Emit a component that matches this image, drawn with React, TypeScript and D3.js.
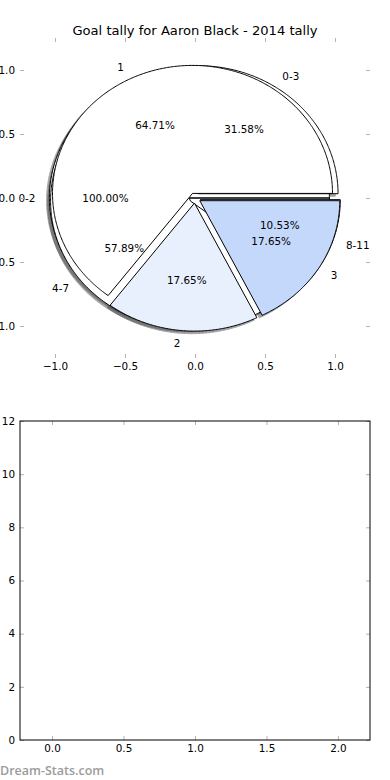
import React, { useRef, useEffect } from "react";
import * as d3 from "d3";

const title = "Goal tally for Aaron Black - 2014 tally";

// three pies drawn on the same axes, bottom one first
const allLabels = ["0-2"];
const allValues = [19];
const rangeLabels = ["0-3", "4-7", "8-11"];
const rangeValues = [6, 11, 2];
const tallyLabels = ["1", "2", "3"];
const tallyValues = [11, 3, 3];
const tallyColors = ["#ffffff", "#e9f0fd", "#c4d8fb"];

const pieTicks = [-1.0, -0.5, 0.0, 0.5, 1.0];
const lowerXTicks = [0, 0.5, 1.0, 1.5, 2.0];
const lowerYTicks = [0, 2, 4, 6, 8, 10, 12];

const W = 390;
const H = 780;
const FONT = "DejaVu Sans, sans-serif";
const TICK_GREY = "#b3b3b3";

function App() {
  const ref = useRef<SVGSVGElement>(null);

  useEffect(() => {
    const svg = d3.select(ref.current);
    svg.selectAll("*").remove();

    svg.append("rect").attr("width", W).attr("height", H).attr("fill", "white");

    // ---------- top: pie axes ----------
    const x = d3.scaleLinear().domain([-1.25, 1.25]).range([20, 370]);
    const y = d3.scaleLinear().domain([-1.25, 1.25]).range([358, 38]);

    svg
      .append("text")
      .attr("x", (x.range()[0] + x.range()[1]) / 2)
      .attr("y", 34.5)
      .attr("text-anchor", "middle")
      .style("font-family", FONT)
      .style("font-size", "13.1px")
      .text(title);

    const shadows = svg.append("g");
    const wedges = svg.append("g");
    const texts = svg.append("g");

    const line = d3
      .line<[number, number]>()
      .x((d) => x(d[0]))
      .y((d) => y(d[1]));

    const explode = 0.04;

    function wedgePoints(cx: number, cy: number, t1: number, t2: number) {
      const pts: [number, number][] = [[cx, cy]];
      const n = Math.max(2, Math.ceil((t2 - t1) / 0.01));
      for (let i = 0; i <= n; i++) {
        const t = t1 + ((t2 - t1) * i) / n;
        pts.push([cx + Math.cos(t), cy + Math.sin(t)]);
      }
      pts.push([cx, cy]);
      return pts;
    }

    function drawPie(labels: string[], values: number[], colors: string[]) {
      const total = d3.sum(values);
      const arcs = d3
        .pie<number>()
        .sort(null)
        .startAngle(0)
        .endAngle(2 * Math.PI)(values);

      arcs.forEach((a, i) => {
        const mid = (a.startAngle + a.endAngle) / 2;
        const cx = explode * Math.cos(mid);
        const cy = explode * Math.sin(mid);
        const pts = wedgePoints(cx, cy, a.startAngle, a.endAngle);
        const fill = colors[i % colors.length];
        const c = d3.rgb(fill);
        const shade = d3.rgb(c.r * 0.3, c.g * 0.3, c.b * 0.3).toString();

        shadows
          .append("path")
          .attr("d", line(pts.map((p) => [p[0] - 0.02, p[1] - 0.02])))
          .attr("fill", shade)
          .attr("stroke", shade)
          .attr("opacity", 0.5);

        wedges
          .append("path")
          .attr("d", line(pts))
          .attr("fill", fill)
          .attr("stroke", "black")
          .attr("stroke-width", 1)
          .attr("stroke-linejoin", "miter");

        const lx = cx + 1.1 * Math.cos(mid);
        const ly = cy + 1.1 * Math.sin(mid);
        texts
          .append("text")
          .attr("x", x(lx))
          .attr("y", y(ly))
          .attr("text-anchor", lx > 0 ? "start" : "end")
          .attr("dominant-baseline", "central")
          .style("font-family", FONT)
          .style("font-size", "10.4px")
          .text(labels[i]);

        texts
          .append("text")
          .attr("x", x(cx + 0.6 * Math.cos(mid)))
          .attr("y", y(cy + 0.6 * Math.sin(mid)))
          .attr("text-anchor", "middle")
          .attr("dominant-baseline", "central")
          .style("font-family", FONT)
          .style("font-size", "10.4px")
          .text(((values[i] / total) * 100).toFixed(2) + "%");
      });
    }

    drawPie(allLabels, allValues, ["#ffffff"]);
    drawPie(rangeLabels, rangeValues, ["#ffffff"]);
    drawPie(tallyLabels, tallyValues, tallyColors);

    const fmt1 = d3.format(".1f");

    function styleAxis(g: d3.Selection<SVGGElement, unknown, null, undefined>) {
      g.select(".domain").remove();
      g.selectAll(".tick line").attr("stroke", TICK_GREY);
      g.selectAll(".tick text")
        .style("font-family", FONT)
        .style("font-size", "10.4px")
        .attr("fill", "black");
    }

    function frameTicks(
      xs: d3.ScaleLinear<number, number>,
      ys: d3.ScaleLinear<number, number>,
      xt: number[],
      yt: number[],
      xf: (n: number) => string,
      yf: (n: number) => string
    ) {
      const [l, r] = xs.range();
      const [b, t] = ys.range();
      svg
        .append("g")
        .attr("transform", `translate(0,${b})`)
        .call(d3.axisBottom(xs).tickValues(xt).tickSizeInner(-4).tickSizeOuter(0).tickPadding(5).tickFormat((d) => xf(+d)))
        .call(styleAxis);
      svg
        .append("g")
        .attr("transform", `translate(0,${t})`)
        .call(d3.axisTop(xs).tickValues(xt).tickSizeInner(-4).tickSizeOuter(0).tickFormat(() => ""))
        .call(styleAxis);
      svg
        .append("g")
        .attr("transform", `translate(${l},0)`)
        .call(d3.axisLeft(ys).tickValues(yt).tickSizeInner(-4).tickSizeOuter(0).tickPadding(5).tickFormat((d) => yf(+d)))
        .call(styleAxis);
      svg
        .append("g")
        .attr("transform", `translate(${r},0)`)
        .call(d3.axisRight(ys).tickValues(yt).tickSizeInner(-4).tickSizeOuter(0).tickFormat(() => ""))
        .call(styleAxis);
    }

    frameTicks(x, y, pieTicks, pieTicks, fmt1, fmt1);

    // ---------- bottom: empty axes ----------
    const x2 = d3.scaleLinear().domain([-0.224, 2.224]).range([20, 370]);
    const y2 = d3.scaleLinear().domain([0, 12]).range([740, 421]);

    frameTicks(x2, y2, lowerXTicks, lowerYTicks, fmt1, d3.format("d"));

    svg
      .append("rect")
      .attr("x", x2.range()[0])
      .attr("y", y2.range()[1])
      .attr("width", x2.range()[1] - x2.range()[0])
      .attr("height", y2.range()[0] - y2.range()[1])
      .attr("fill", "none")
      .attr("stroke", "black")
      .attr("stroke-width", 1);

    svg
      .append("text")
      .attr("x", 0)
      .attr("y", 775)
      .style("font-family", "Open Sans, sans-serif")
      .style("font-weight", 600)
      .style("font-size", "12.5px")
      .attr("fill", "#9b9b9b")
      .text("Dream-Stats.com");
  }, []);

  return (
    <svg
      ref={ref}
      width={W}
      height={H}
      style={{ position: "absolute", left: 0, top: 0, display: "block" }}
    ></svg>
  );
}

export default App;
